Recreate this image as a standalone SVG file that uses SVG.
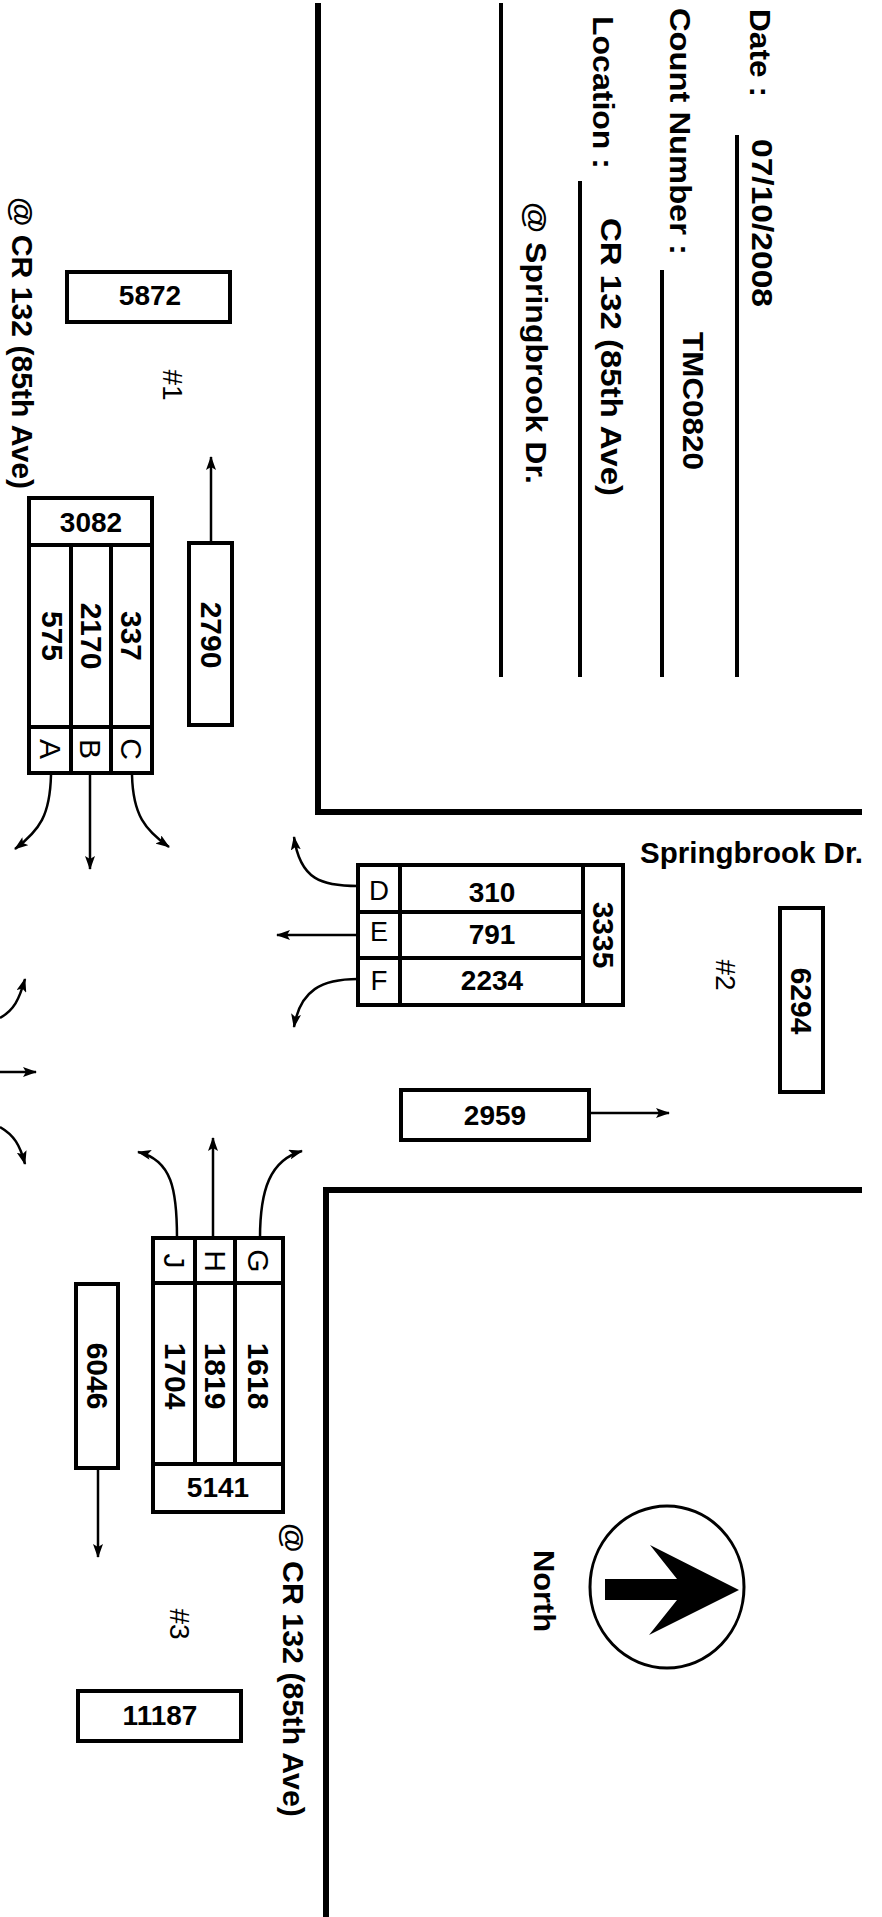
<svg xmlns="http://www.w3.org/2000/svg" width="882" height="1917" viewBox="0 0 882 1917">
<style>
text{font-family:"Liberation Sans",Arial,sans-serif;fill:#000}
.b{font-weight:bold;font-size:29px}
.n{font-weight:bold;font-size:28px;text-anchor:middle}
.r{font-weight:bold;font-size:30px;text-anchor:middle}
.l{font-size:27px;text-anchor:middle}
.lr{font-size:30px;text-anchor:middle}
.h{font-size:28px;text-anchor:middle}
.box{fill:#fff;stroke:#000;stroke-width:4}
.div{stroke:#000;stroke-width:4}
.road{fill:none;stroke:#000;stroke-width:6}
.rule{stroke:#000;stroke-width:4}
.arr{fill:none;stroke:#000;stroke-width:2.5;marker-end:url(#ah)}
</style>
<defs>
<marker id="ah" markerUnits="userSpaceOnUse" markerWidth="14" markerHeight="10" refX="13" refY="5" orient="auto">
<path d="M0,0 L14,5 L0,10 L3,5 z" fill="#000"/>
</marker>
</defs>
<rect width="882" height="1917" fill="#fff"/>

<g id="roads">
<path class="road" d="M318,3 L318,812 L862,812"/>
<path class="road" d="M326,1917 L326,1190 L862,1190"/>
</g>

<g id="header">
<line class="rule" x1="501" y1="3" x2="501" y2="677"/>
<line class="rule" x1="580" y1="181" x2="580" y2="677"/>
<line class="rule" x1="662" y1="270" x2="662" y2="677"/>
<line class="rule" x1="737" y1="135" x2="737" y2="677"/>
<text class="b" x="750" y="9" transform="rotate(90 750 9)" textLength="88" lengthAdjust="spacingAndGlyphs">Date :</text>
<text class="b" x="752" y="139" transform="rotate(90 752 139)" textLength="168" lengthAdjust="spacingAndGlyphs">07/10/2008</text>
<text class="b" x="670" y="8" transform="rotate(90 670 8)" textLength="247" lengthAdjust="spacingAndGlyphs">Count Number :</text>
<text class="b" x="683" y="332" transform="rotate(90 683 332)" textLength="138" lengthAdjust="spacingAndGlyphs">TMC0820</text>
<text class="b" x="593" y="16" transform="rotate(90 593 16)" textLength="153" lengthAdjust="spacingAndGlyphs">Location :</text>
<text class="b" x="601" y="218" transform="rotate(90 601 218)" textLength="278" lengthAdjust="spacingAndGlyphs">CR 132 (85th Ave)</text>
<text class="b" x="526" y="202" transform="rotate(90 526 202)" textLength="282" lengthAdjust="spacingAndGlyphs">@ Springbrook Dr.</text>
</g>

<g id="labels">
<text class="b" x="12" y="197" transform="rotate(90 12 197)" textLength="292" lengthAdjust="spacingAndGlyphs">@ CR 132 (85th Ave)</text>
<text class="b" x="283" y="1523" transform="rotate(90 283 1523)" textLength="294" lengthAdjust="spacingAndGlyphs">@ CR 132 (85th Ave)</text>
<text class="b" x="640" y="863" textLength="223" lengthAdjust="spacingAndGlyphs">Springbrook Dr.</text>
<text class="h" x="163" y="385" transform="rotate(90 163 385)">#1</text>
<text class="h" x="716" y="975" transform="rotate(90 716 975)">#2</text>
<text class="h" x="170" y="1624" transform="rotate(90 170 1624)">#3</text>
</g>

<g id="total-5872">
<rect class="box" x="67" y="272" width="163" height="50"/>
<text class="n" x="150" y="305">5872</text>
</g>

<g id="approach-1">
<rect class="box" x="29" y="498" width="123" height="275"/>
<line class="div" x1="29" y1="545" x2="152" y2="545"/>
<line class="div" x1="29" y1="727" x2="152" y2="727"/>
<line class="div" x1="71" y1="545" x2="71" y2="773"/>
<line class="div" x1="111" y1="545" x2="111" y2="773"/>
<text class="n" x="91" y="532">3082</text>
<text class="r" x="42" y="636" transform="rotate(90 42 636)">575</text>
<text class="r" x="81" y="636" transform="rotate(90 81 636)">2170</text>
<text class="r" x="121" y="636" transform="rotate(90 121 636)">337</text>
<text class="lr" x="40" y="749" transform="rotate(90 40 749)">A</text>
<text class="lr" x="80" y="749" transform="rotate(90 80 749)">B</text>
<text class="lr" x="121" y="749" transform="rotate(90 121 749)">C</text>
</g>

<g id="exit-2790">
<rect class="box" x="189" y="543" width="43" height="182"/>
<text class="r" x="201" y="635" transform="rotate(90 201 635)">2790</text>
</g>

<g id="approach-2">
<rect class="box" x="358" y="865" width="265" height="140"/>
<line class="div" x1="400" y1="865" x2="400" y2="1005"/>
<line class="div" x1="583" y1="865" x2="583" y2="1005"/>
<line class="div" x1="358" y1="912" x2="583" y2="912"/>
<line class="div" x1="358" y1="958" x2="583" y2="958"/>
<text class="l" x="379" y="900" textLength="20" lengthAdjust="spacingAndGlyphs">D</text>
<text class="l" x="379" y="941" textLength="18" lengthAdjust="spacingAndGlyphs">E</text>
<text class="l" x="379" y="990" textLength="17" lengthAdjust="spacingAndGlyphs">F</text>
<text class="n" x="492" y="902">310</text>
<text class="n" x="492" y="944">791</text>
<text class="n" x="492" y="990">2234</text>
<text class="r" x="593" y="935" transform="rotate(90 593 935)">3335</text>
</g>

<g id="total-6294">
<rect class="box" x="780" y="908" width="43" height="184"/>
<text class="r" x="791" y="1001" transform="rotate(90 791 1001)">6294</text>
</g>

<g id="exit-2959">
<rect class="box" x="401" y="1090" width="188" height="50"/>
<text class="n" x="495" y="1125">2959</text>
</g>

<g id="approach-3">
<rect class="box" x="153" y="1238" width="130" height="274"/>
<line class="div" x1="153" y1="1283" x2="283" y2="1283"/>
<line class="div" x1="153" y1="1464" x2="283" y2="1464"/>
<line class="div" x1="195" y1="1238" x2="195" y2="1464"/>
<line class="div" x1="235" y1="1238" x2="235" y2="1464"/>
<text class="lr" x="164" y="1261" transform="rotate(90 164 1261)">J</text>
<text class="lr" x="205" y="1261" transform="rotate(90 205 1261)">H</text>
<text class="lr" x="248" y="1261" transform="rotate(90 248 1261)">G</text>
<text class="r" x="165" y="1376" transform="rotate(90 165 1376)">1704</text>
<text class="r" x="205" y="1376" transform="rotate(90 205 1376)">1819</text>
<text class="r" x="248" y="1376" transform="rotate(90 248 1376)">1618</text>
<text class="n" x="218" y="1497">5141</text>
</g>

<g id="exit-6046">
<rect class="box" x="76" y="1284" width="42" height="184"/>
<text class="r" x="87" y="1376" transform="rotate(90 87 1376)">6046</text>
</g>

<g id="total-11187">
<rect class="box" x="78" y="1691" width="163" height="50"/>
<text class="n" x="160" y="1725">11187</text>
</g>

<g id="north">
<ellipse cx="667" cy="1587" rx="77" ry="81" fill="none" stroke="#000" stroke-width="3"/>
<polygon points="605,1579 677,1579 650,1545 739,1590 649,1635 677,1600 605,1600" fill="#000"/>
<text class="b" x="534" y="1550" transform="rotate(90 534 1550)" textLength="82" lengthAdjust="spacingAndGlyphs">North</text>
</g>

<g id="connectors">
<path class="arr" d="M211,543 L211,457"/>
<path class="arr" d="M51,775 C50,815 40,830 15,849"/>
<path class="arr" d="M90,775 L90,869"/>
<path class="arr" d="M132,775 C133,815 145,830 169,847"/>
<path class="arr" d="M358,886 C322,886 300,880 294,837"/>
<path class="arr" d="M358,935 L277,935"/>
<path class="arr" d="M358,979 C322,979 300,990 294,1027"/>
<path class="arr" d="M589,1113 L669,1113"/>
<path class="arr" d="M0,1018 C14,1010 19,1000 25,979"/>
<path class="arr" d="M0,1072 L36,1072"/>
<path class="arr" d="M0,1127 C14,1135 20,1145 25,1164"/>
<path class="arr" d="M177,1238 C177,1190 172,1160 138,1152"/>
<path class="arr" d="M213,1238 L213,1138"/>
<path class="arr" d="M260,1238 C260,1190 270,1160 302,1151"/>
<path class="arr" d="M98,1468 L98,1557"/>
</g>
</svg>
